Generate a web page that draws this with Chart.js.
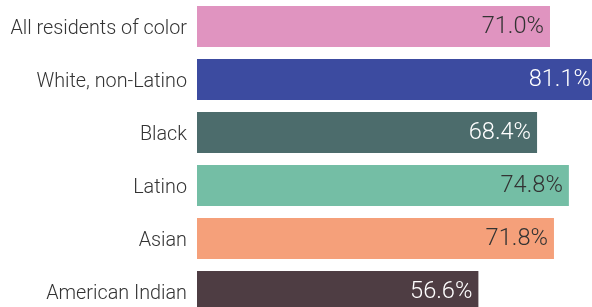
<!DOCTYPE html>
<html>
<head>
<meta charset="utf-8">
<script src="https://cdn.jsdelivr.net/npm/chart.js@4/dist/chart.umd.min.js"></script>
<style>
html,body{margin:0;padding:0;background:#fff;overflow:hidden;}
#wrap{width:592px;height:307px;overflow:hidden;}
canvas{display:block;}
</style>
</head>
<body>
<div id="wrap"><canvas id="c" width="592" height="318"></canvas></div>
<script>
const categories = ["All residents of color", "White, non-Latino", "Black", "Latino", "Asian", "American Indian"];
const values = [71.0, 81.1, 68.4, 74.8, 71.8, 56.6];
const valueLabels = ["71.0%", "81.1%", "68.4%", "74.8%", "71.8%", "56.6%"];
const barColors = ["#E094C0", "#3C4BA0", "#4C6C6C", "#74BEA5", "#F5A07A", "#4E3D43"];
const labelColors = ["#333333", "#ffffff", "#ffffff", "#333333", "#333333", "#ffffff"];

const valueLabelPlugin = {
  id: 'valueLabels',
  afterDatasetsDraw(chart) {
    const ctx = chart.ctx;
    const meta = chart.getDatasetMeta(0);
    const area = chart.chartArea;
    ctx.save();
    ctx.font = '300 23.6px Roboto, "Liberation Sans", Arial, sans-serif';
    ctx.textAlign = 'right';
    ctx.textBaseline = 'middle';
    meta.data.forEach((bar, i) => {
      const x = Math.min(bar.x - 6, area.right - 1);
      ctx.fillStyle = labelColors[i];
      ctx.fillText(valueLabels[i], x, bar.y + 1);
    });
    ctx.restore();
  }
};

new Chart(document.getElementById('c'), {
  type: 'bar',
  data: {
    labels: categories,
    datasets: [{
      data: values,
      backgroundColor: barColors,
      borderWidth: 0,
      barPercentage: 41/53,
      categoryPercentage: 1.0
    }]
  },
  options: {
    indexAxis: 'y',
    responsive: false,
    animation: false,
    layout: { padding: 0 },
    plugins: { legend: { display: false }, tooltip: { enabled: false } },
    scales: {
      x: {
        min: 0, max: 79.45,
        display: false,
        grid: { display: false }
      },
      y: {
        grid: { display: false, drawTicks: false },
        border: { display: false },
        ticks: {
          padding: 10,
          labelOffset: 3,
          color: '#333333',
          font: { family: 'Roboto, "Liberation Sans", Arial, sans-serif', size: 19.8, weight: '300' }
        },
        afterFit(scale) {
          scale.width = 197;
          scale.paddingTop = 0;
          scale.paddingBottom = 0;
        }
      }
    }
  },
  plugins: [valueLabelPlugin]
});
</script>
</body>
</html>
